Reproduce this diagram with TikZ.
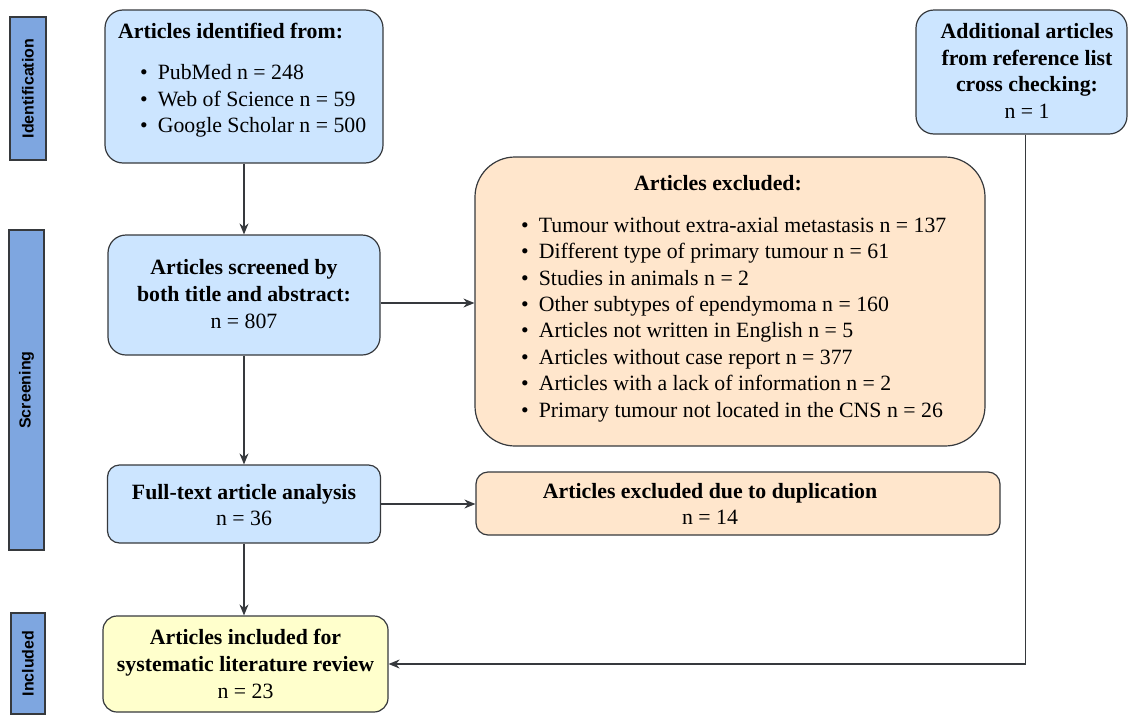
\documentclass[tikz,border=0pt]{standalone}
\usepackage{fontspec}
\setmainfont{Liberation Serif}
\setsansfont{Liberation Sans}
\usetikzlibrary{arrows.meta,calc}
\definecolor{bluefill}{HTML}{CCE5FF}
\definecolor{orangefill}{HTML}{FFE6CC}
\definecolor{yellowfill}{HTML}{FFFFCC}
\definecolor{barfill}{HTML}{7EA6E0}
\definecolor{edge}{HTML}{36393D}
\begin{document}
\begin{tikzpicture}[x=1pt,y=-1pt,
  box/.style={draw=edge, line width=1.2pt, rounded corners=18pt, inner sep=0pt},
  bluebox/.style={box, fill=bluefill},
  orangebox/.style={box, fill=orangefill},
  yellowbox/.style={box, fill=yellowfill},
  bar/.style={draw=edge, line width=1.2pt, fill=barfill, inner sep=0pt},
  barlabel/.style={rotate=90, font=\sffamily\bfseries\fontsize{16}{18}\selectfont},
  txt/.style={font=\fontsize{21.8}{26.8}\selectfont, align=center, inner sep=0pt},
  listtxt/.style={font=\fontsize{21.8}{26.4}\selectfont, align=left, inner sep=0pt, anchor=west},
  arr/.style={draw=edge, line width=1.3pt, -{Stealth[length=11pt,width=9pt]}}
]
\useasboundingbox (0,0) rectangle (1129,715);

% side bars
\node[bar, minimum width=36pt, minimum height=143pt] (barI) at (28,88.5) {};
\node[barlabel] (labI) at (barI.center) {Identification};
\node[bar, minimum width=35pt, minimum height=320pt] (barS) at (26.5,390) {};
\node[barlabel] (labS) at (barS.center) {Screening};
\node[bar, minimum width=34pt, minimum height=101pt] (barN) at (28,663.5) {};
\node[barlabel] (labN) at (barN.center) {Included};

% identification box
\node[bluebox, minimum width=278pt, minimum height=153pt] (ident) at (244,86.5) {};
\node[txt, anchor=west] (identT) at (118,31) {\textbf{Articles identified from:}};
\node[listtxt] (identL) at (140,101) {\textbullet\hspace{10pt}PubMed n = 248\\
\textbullet\hspace{10pt}Web of Science n = 59\\
\textbullet\hspace{10pt}Google Scholar n = 500};

% additional box
\node[bluebox, minimum width=211pt, minimum height=124pt] (add) at (1021.5,72) {};
\node[txt] (addT) at (1027,71) {\textbf{Additional articles}\\ \textbf{from reference list}\\ \textbf{cross checking:}\\ n = 1};

% screened box
\node[bluebox, minimum width=272pt, minimum height=120pt] (screen) at (244,295) {};
\node[txt] (screenT) at (244,294) {\textbf{Articles screened by}\\ \textbf{both title and abstract:}\\ n = 807};

% excluded box
\node[orangebox, rounded corners=40pt, minimum width=510pt, minimum height=289pt] (excl) at (730,301.5) {};
\node[txt] (exclT) at (718,183) {\textbf{Articles excluded:}};
\node[listtxt] (exclL) at (521,319.5) {\textbullet\hspace{10pt}Tumour without extra-axial metastasis n = 137\\
\textbullet\hspace{10pt}Different type of primary tumour n = 61\\
\textbullet\hspace{10pt}Studies in animals n = 2\\
\textbullet\hspace{10pt}Other subtypes of ependymoma n = 160\\
\textbullet\hspace{10pt}Articles not written in English n = 5\\
\textbullet\hspace{10pt}Articles without case report n = 377\\
\textbullet\hspace{10pt}Articles with a lack of information n = 2\\
\textbullet\hspace{10pt}Primary tumour not located in the CNS n = 26};

% full text box
\node[bluebox, rounded corners=12pt, minimum width=273pt, minimum height=78pt] (full) at (244,504) {};
\node[txt] (fullT) at (244,505) {\textbf{Full-text article analysis}\\ n = 36};

% duplication box
\node[orangebox, rounded corners=12pt, minimum width=524pt, minimum height=63pt] (dup) at (738,503.5) {};
\node[txt] (dupT) at (710,504) {\textbf{Articles excluded due to duplication}\\ n = 14};

% included box
\node[yellowbox, rounded corners=14pt, minimum width=285pt, minimum height=96pt] (incl) at (245.5,664) {};
\node[txt] (inclT) at (245.5,664) {\textbf{Articles included for}\\ \textbf{systematic literature review}\\ n = 23};

% connectors
\draw[arr] (ident.south) -- (screen.north);
\draw[arr] ([yshift=-8pt]screen.east) coordinate (s1) -- (s1 -| excl.west);
\draw[arr] (screen.south) -- (full.north);
\draw[arr] (full.east) -- (full.east -| dup.west);
\draw[arr] (full.south) -- (full.south |- incl.north);
\draw[arr] ([xshift=4pt]add.south) coordinate (a1) -- (a1 |- incl.east) -- (incl.east);
\end{tikzpicture}
\end{document}
